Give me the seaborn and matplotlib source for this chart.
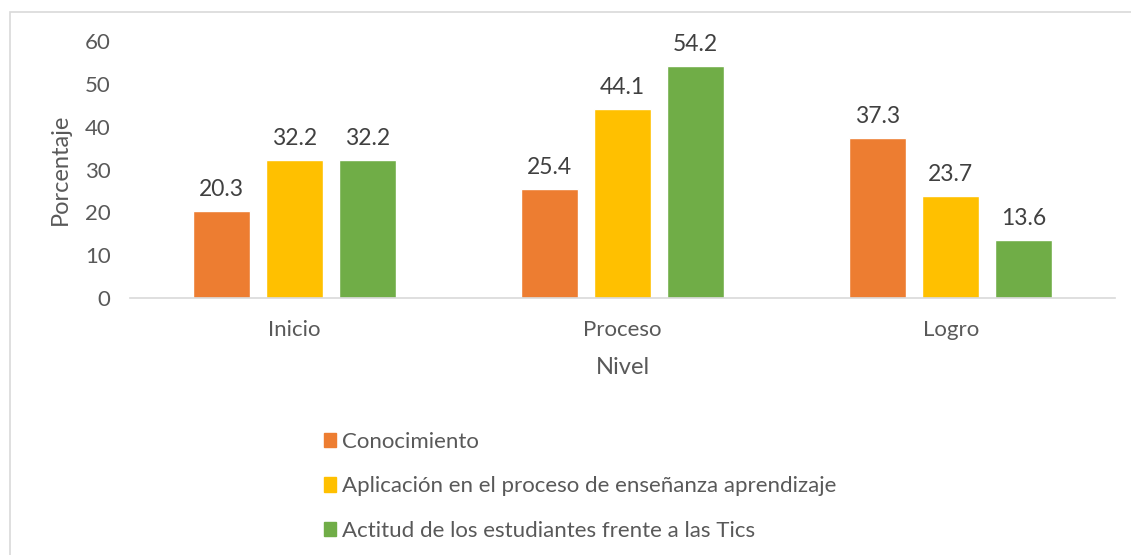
import matplotlib
matplotlib.use("Agg")
import matplotlib.pyplot as plt
import matplotlib.patches as mpatches
import seaborn as sns
import pandas as pd

categories = ["Inicio", "Proceso", "Logro"]
series_names = ["Conocimiento",
                "Aplicación en el proceso de enseñanza aprendizaje",
                "Actitud de los estudiantes frente a las Tics"]
conocimiento = [20.3, 25.4, 37.3]
aplicacion = [32.2, 44.1, 23.7]
actitud = [32.2, 54.2, 13.6]
colors = ["#ED7D31", "#FFC000", "#70AD47"]
yticks = [0, 10, 20, 30, 40, 50, 60]

rows = []
for name, vals in zip(series_names, [conocimiento, aplicacion, actitud]):
    for c, v in zip(categories, vals):
        rows.append({"Nivel": c, "Serie": name, "Porcentaje": v})
df = pd.DataFrame(rows)

sns.set_theme(style="white")
plt.rcParams["font.family"] = ["Lato", "DejaVu Sans"]

fig = plt.figure(figsize=(11.31, 5.55), dpi=100)
ax = fig.add_axes([130/1131, 1-298/555, 985/1131, (298-41)/555])

sns.barplot(data=df, x="Nivel", y="Porcentaje", hue="Serie", order=categories,
            hue_order=series_names, palette=colors, width=0.6675, gap=0.218,
            saturation=1, ax=ax, legend=False, errorbar=None)

for cont in ax.containers:
    for bar in cont:
        h = bar.get_height()
        ax.annotate(f"{h:.1f}", (bar.get_x() + bar.get_width()/2, h),
                    xytext=(0, 8), textcoords="offset points",
                    ha="center", va="bottom", fontsize=16.5, color="#404040")

ax.set_xlim(-0.5, 2.5)
ax.set_ylim(0, 60)
ax.set_yticks(yticks)
ax.tick_params(axis="both", length=0, labelsize=16, colors="#595959")
ax.tick_params(axis="y", pad=14)
ax.tick_params(axis="x", pad=16)
for s in ["top", "right", "left"]:
    ax.spines[s].set_visible(False)
ax.spines["bottom"].set_color("#D9D9D9")
ax.spines["bottom"].set_linewidth(1.2)
ax.set_xlabel("Nivel", fontsize=17, color="#595959", labelpad=12)
ax.set_ylabel("Porcentaje", fontsize=17, color="#595959", labelpad=10)

handles = [mpatches.Patch(color=c, label=n) for c, n in zip(colors, series_names)]
fig.legend(handles=handles, loc="upper left", bbox_to_anchor=(315/1131, 1-423/555),
           frameon=False, fontsize=16, labelcolor="#595959",
           handlelength=0.55, handleheight=0.6, handletextpad=0.25,
           labelspacing=1.1, borderaxespad=0)

border = mpatches.Rectangle((10/1131, -0.1), 1.2, 1.1 - 12/555,
                            transform=fig.transFigure, fill=False,
                            edgecolor="#D9D9D9", linewidth=1.2)
fig.patches.append(border)

fig.savefig("out.png", dpi=100, facecolor="white")
